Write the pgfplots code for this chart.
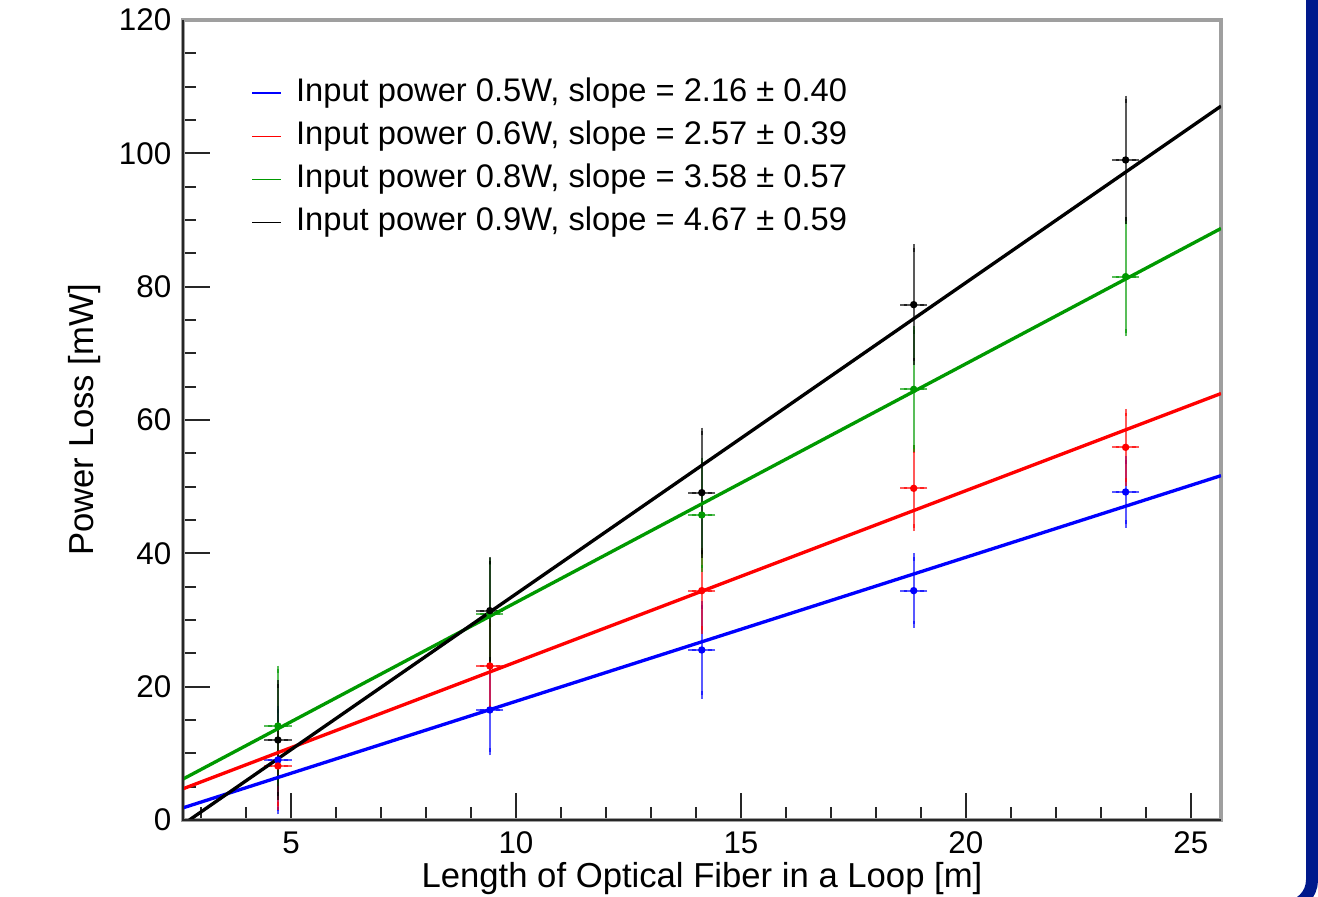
\documentclass[border=0pt]{standalone}
\usepackage{fontspec}
\setmainfont{Liberation Sans}
\usepackage{pgfplots}
\pgfplotsset{compat=1.18}
\usepackage{pgfplotstable}
\definecolor{rootgreen}{RGB}{0,153,0}
\definecolor{slideblue}{RGB}{0,25,140}

% length [m], power loss [mW], errors
\pgfplotstableread{
x y ex ey
4.71 9.0 0.22 7.6
9.42 16.5 0.22 6.25
14.13 25.5 0.22 6.75
18.84 34.4 0.22 5.05
23.55 49.2 0.22 4.8
}\blueData
\pgfplotstableread{
x y ex ey
4.71 8.1 0.22 6.0
9.42 23.1 0.22 6.4
14.13 34.4 0.22 5.9
18.84 49.75 0.22 5.9
23.55 55.9 0.22 5.2
}\redData
\pgfplotstableread{
x y ex ey
4.71 14.1 0.22 8.5
9.42 30.9 0.22 7.9
14.13 45.75 0.22 8.0
18.84 64.6 0.22 8.9
23.55 81.5 0.22 8.4
}\greenData
\pgfplotstableread{
x y ex ey
4.71 12.0 0.22 8.4
9.42 31.4 0.22 7.5
14.13 49.1 0.22 9.2
18.84 77.3 0.22 8.5
23.55 99.0 0.22 9.1
}\blackData

\pgfplotsset{
  pts/.style={only marks, mark=*, mark size=0.9pt, forget plot,
    error bars/.cd, x dir=both, x explicit, y dir=both, y explicit,
    error bar style={line width=0.65pt, opacity=0.65},
    error mark options={line width=0.65pt, mark size=1.1pt}},
}

\begin{document}
\begin{tikzpicture}
\useasboundingbox (-54.9pt,-23.1pt) rectangle (340.5pt,246pt);
\begin{axis}[
    name=ax, at={(0pt,0pt)}, anchor=south west,
    scale only axis, width=311.4pt, height=240pt,
    xmin=2.6, xmax=25.67, ymin=0, ymax=120,
    xtick={5,10,...,25}, minor xtick={3,4,...,25},
    ytick={0,20,...,120}, minor ytick={5,10,...,115},
    xtick pos=left, ytick pos=left, tick align=inside,
    major tick length=8pt, minor tick length=4pt,
    tick style={black!85, line width=0.6pt},
    axis line style={gray!75, line width=1pt},
    /pgf/number format/assume math mode=true,
    ticklabel style={font=\fontsize{9.4}{11}\selectfont},
    xlabel={Length of Optical Fiber in a Loop [m]},
    ylabel={Power Loss [mW]},
    label style={font=\fontsize{10.4}{12}\selectfont},
    x label style={at={(axis description cs:0.5,-0.0838)}, anchor=base},
    y label style={at={(axis description cs:-0.0867,0.5)}, anchor=base, rotate=0},
    legend cell align=left,
    legend image code/.code={\draw[#1, line width=0.45pt] (0pt,0pt) -- (8.7pt,0pt);},
    legend style={draw=none, fill=none, inner sep=0pt,
      at={(axis description cs:0.0655,0.9319)}, anchor=north west,
      font=\fontsize{9.8}{11}\selectfont, row sep=2.15pt, column sep=3.3pt,
      nodes={text height=7pt, text depth=2pt, inner sep=0.9pt}},
]
\addplot[blue, pts] table[x=x, y=y, x error=ex, y error=ey] {\blueData};
\addplot[red, pts] table[x=x, y=y, x error=ex, y error=ey] {\redData};
\addplot[rootgreen, pts] table[x=x, y=y, x error=ex, y error=ey] {\greenData};
\addplot[black, pts] table[x=x, y=y, x error=ex, y error=ey] {\blackData};

\addplot[blue, line width=1pt] coordinates {(2.6,1.82) (25.67,51.65)};
\addlegendentry{Input power 0.5W, slope = 2.16 ± 0.40}
\addplot[red, line width=1pt] coordinates {(2.6,4.68) (25.67,63.97)};
\addlegendentry{Input power 0.6W, slope = 2.57 ± 0.39}
\addplot[rootgreen, line width=1pt] coordinates {(2.6,6.14) (25.67,88.73)};
\addlegendentry{Input power 0.8W, slope = 3.58 ± 0.57}
\addplot[black, line width=1pt] coordinates {(2.741,0) (25.67,107.08)};
\addlegendentry{Input power 0.9W, slope = 4.67 ± 0.59}
\end{axis}
\draw[black!85, line width=0.8pt] (ax.north west) -- (ax.south west) -- (ax.south east);
\draw[slideblue, line width=3.6pt, rounded corners=8pt] (338.7pt,250pt) -- (338.7pt,-26pt) -- (300pt,-26pt);
\end{tikzpicture}
\end{document}
